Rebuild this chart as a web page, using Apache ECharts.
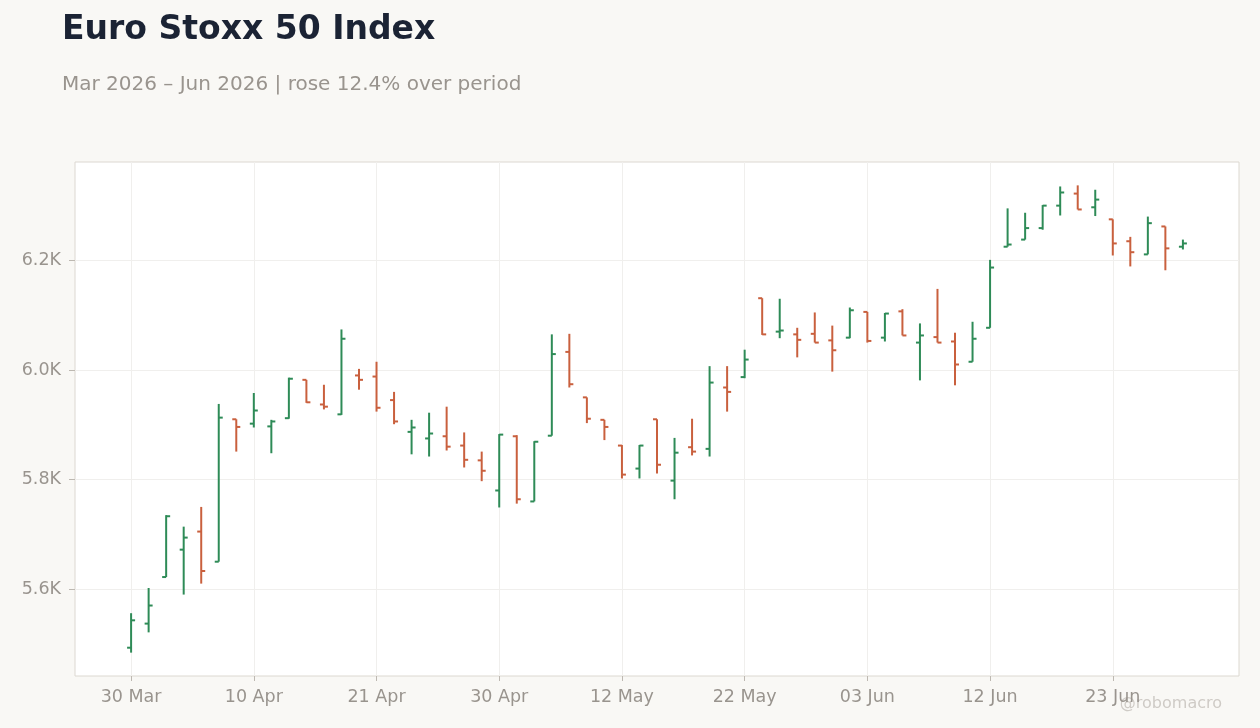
<!DOCTYPE html>
<html>
<head>
<meta charset="utf-8">
<title>Euro Stoxx 50 Index</title>
<script src="https://cdn.jsdelivr.net/npm/echarts@6/dist/echarts.min.js"></script>
<style>
  html, body { margin: 0; padding: 0; background: #f9f8f5; }
  #chart { width: 1260px; height: 728px; }
</style>
</head>
<body>
<div id="chart"></div>
<script>
// trading days (Easter, Ascension, Whit Monday skipped)
var dates = [
  '30 Mar', '31 Mar', '01 Apr', '02 Apr', '07 Apr', '08 Apr', '09 Apr',
  '10 Apr', '13 Apr', '14 Apr', '15 Apr', '16 Apr', '17 Apr', '20 Apr',
  '21 Apr', '22 Apr', '23 Apr', '24 Apr', '27 Apr', '28 Apr', '29 Apr',
  '30 Apr', '04 May', '05 May', '06 May', '07 May', '08 May', '11 May',
  '12 May', '13 May', '15 May', '18 May', '19 May', '20 May', '21 May',
  '22 May', '26 May', '27 May', '28 May', '29 May', '01 Jun', '02 Jun',
  '03 Jun', '04 Jun', '05 Jun', '08 Jun', '09 Jun', '10 Jun', '11 Jun',
  '12 Jun', '15 Jun', '16 Jun', '17 Jun', '18 Jun', '19 Jun', '22 Jun',
  '23 Jun', '24 Jun', '25 Jun', '26 Jun', '29 Jun'
];

var opens = [
  5493, 5537, 5622, 5672, 5705, 5650, 5910, 5902, 5897, 5912,
  5982, 5937, 5919, 5990, 5988, 5945, 5887, 5875, 5879, 5862,
  5835, 5780, 5879, 5760, 5880, 6033, 5950, 5909, 5862, 5820,
  5910, 5798, 5859, 5856, 5968, 5987, 6131, 6070, 6065, 6066,
  6054, 6059, 6106, 6059, 6107, 6050, 6060, 6052, 6015, 6077,
  6225, 6238, 6259, 6300, 6322, 6297, 6275, 6235, 6211, 6262,
  6225
];
var highs = [
  5556, 5602, 5735, 5714, 5750, 5938, 5910, 5958, 5909, 5986,
  5982, 5973, 6074, 6002, 6015, 5960, 5909, 5922, 5933, 5886,
  5851, 5883, 5881, 5870, 6065, 6066, 5950, 5909, 5863, 5863,
  5910, 5876, 5911, 6007, 6007, 6037, 6131, 6130, 6077, 6105,
  6081, 6114, 6106, 6104, 6111, 6085, 6148, 6068, 6088, 6201,
  6295, 6287, 6301, 6335, 6337, 6329, 6275, 6243, 6280, 6262,
  6238
];
var lows = [
  5484, 5521, 5622, 5590, 5610, 5650, 5851, 5895, 5848, 5911,
  5940, 5928, 5918, 5964, 5924, 5901, 5846, 5842, 5853, 5822,
  5797, 5749, 5756, 5760, 5880, 5968, 5903, 5872, 5802, 5802,
  5811, 5764, 5844, 5842, 5924, 5985, 6064, 6058, 6023, 6050,
  5997, 6058, 6050, 6052, 6063, 5981, 6050, 5972, 6015, 6077,
  6225, 6238, 6256, 6282, 6293, 6281, 6209, 6189, 6211, 6182,
  6220
];
var closes = [
  5543, 5570, 5733, 5694, 5633, 5913, 5896, 5926, 5906, 5984,
  5941, 5933, 6057, 5982, 5931, 5906, 5895, 5884, 5860, 5836,
  5816, 5882, 5764, 5869, 6029, 5974, 5911, 5896, 5809, 5862,
  5827, 5849, 5851, 5977, 5960, 6019, 6065, 6072, 6055, 6050,
  6036, 6109, 6053, 6103, 6063, 6063, 6050, 6010, 6057, 6187,
  6229, 6259, 6300, 6324, 6293, 6311, 6231, 6215, 6268, 6222,
  6231
];

var xTicks = [0, 7, 14, 21, 28, 35, 42, 49, 56];
var yTicks = [5600, 5800, 6000, 6200];

var upColor = '#2e8b57';
var downColor = '#c9603e';
var inkColor = '#99948e';
var frameColor = '#dcd8d1';

// [index, open, close, low, high]
var ohlc = dates.map(function (d, i) {
  return [i, opens[i], closes[i], lows[i], highs[i]];
});

// 5% padding around the price range
var lo = Math.min.apply(null, lows);
var hi = Math.max.apply(null, highs);
var pad = (hi - lo) * 0.05;

var chart = echarts.init(document.getElementById('chart'));

var option = {
  backgroundColor: '#f9f8f5',
  animation: false,
  title: {
    text: 'Euro Stoxx 50 Index',
    subtext: 'Mar 2026 \u2013 Jun 2026 | rose 12.4% over period',
    left: 57,
    top: 9,
    itemGap: 28,
    textStyle: {
      fontFamily: 'DejaVu Sans',
      fontSize: 33,
      fontWeight: 'bold',
      color: '#1b2334'
    },
    subtextStyle: {
      fontFamily: 'DejaVu Sans',
      fontSize: 20,
      color: inkColor
    }
  },
  graphic: [{
    type: 'text',
    right: 38,
    top: 696,
    style: {
      text: '@robomacro',
      fontFamily: 'DejaVu Sans',
      fontSize: 16,
      fill: '#cfcbc6'
    }
  }],
  grid: {
    left: 75,
    right: 21,
    top: 162,
    bottom: 52,
    show: true,
    backgroundColor: '#ffffff',
    borderColor: frameColor,
    borderWidth: 1
  },
  xAxis: {
    type: 'value',
    min: -3.2,
    max: 63.2,
    axisLine: { show: false, onZero: false },
    axisTick: {
      show: true,
      customValues: xTicks,
      length: 5,
      lineStyle: { color: '#bdb8b1' }
    },
    axisLabel: {
      customValues: xTicks,
      margin: 12,
      fontFamily: 'DejaVu Sans',
      fontSize: 17.5,
      color: inkColor,
      formatter: function (v) { return dates[Math.round(v)]; }
    },
    splitLine: {
      show: true,
      lineStyle: { color: '#f0efed', width: 1 }
    }
  },
  yAxis: {
    type: 'value',
    min: lo - pad,
    max: hi + pad,
    axisLine: { show: false, onZero: false },
    axisTick: {
      show: true,
      customValues: yTicks,
      length: 6,
      lineStyle: { color: '#bdb8b1' }
    },
    axisLabel: {
      customValues: yTicks,
      margin: 14,
      fontFamily: 'DejaVu Sans',
      fontSize: 17.5,
      color: inkColor,
      formatter: function (v) { return (v / 1000).toFixed(1) + 'K'; }
    },
    splitLine: {
      show: true,
      lineStyle: { color: '#f0efed', width: 1 }
    }
  },
  series: [{
    type: 'custom',
    name: 'Euro Stoxx 50',
    data: ohlc,
    encode: { x: 0, y: [1, 2, 3, 4] },
    renderItem: function (params, api) {
      var i = api.value(0);
      var o = api.coord([i, api.value(1)]);
      var c = api.coord([i, api.value(2)]);
      var l = api.coord([i, api.value(3)]);
      var h = api.coord([i, api.value(4)]);
      var color = api.value(2) >= api.value(1) ? upColor : downColor;
      var style = { stroke: color, lineWidth: 2 };
      return {
        type: 'group',
        children: [
          { type: 'line', shape: { x1: h[0], y1: h[1], x2: l[0], y2: l[1] }, style: style },
          { type: 'line', shape: { x1: o[0] - 4, y1: o[1], x2: o[0], y2: o[1] }, style: style },
          { type: 'line', shape: { x1: c[0], y1: c[1], x2: c[0] + 4, y2: c[1] }, style: style }
        ]
      };
    }
  }]
};

chart.setOption(option);
</script>
</body>
</html>
